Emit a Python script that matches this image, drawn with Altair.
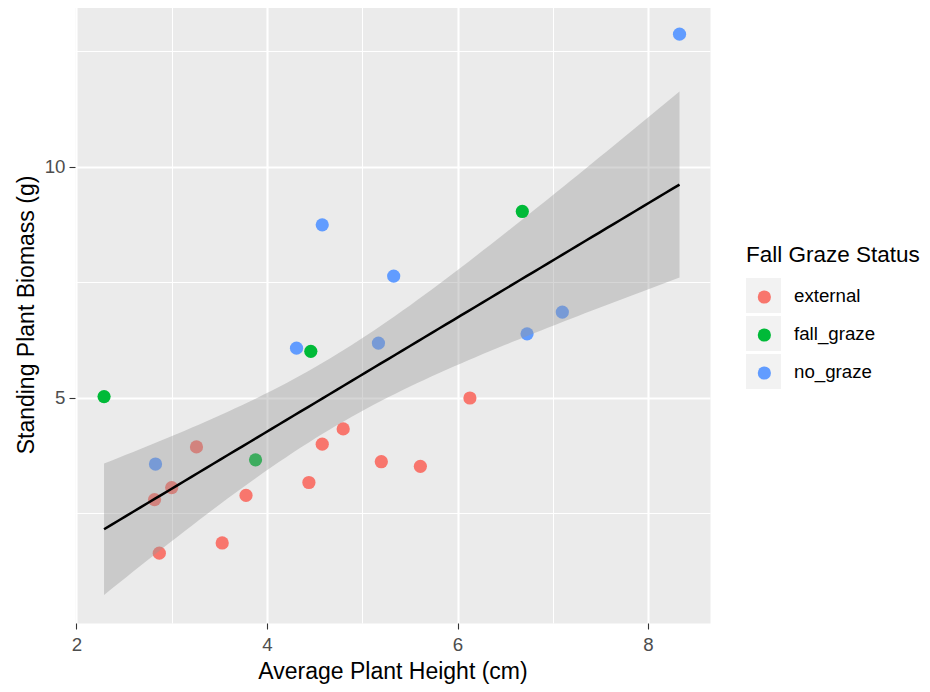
import altair as alt
import numpy as np
import pandas as pd

# ---- data ----
status_levels = ["external", "fall_graze", "no_graze"]
status_colors = ["#F8766D", "#00BA38", "#619CFF"]

external_height = [3.26, 3.00, 2.82, 2.87, 3.53, 3.78, 4.44, 4.58, 4.80, 5.20, 5.61, 6.13]
external_biomass = [3.93, 3.05, 2.79, 1.63, 1.85, 2.88, 3.16, 3.99, 4.32, 3.61, 3.51, 4.99]

fall_height = [2.29, 4.46, 3.88, 6.68]
fall_biomass = [5.02, 6.00, 3.65, 9.03]

nograze_height = [8.33, 4.58, 5.33, 4.31, 5.17, 6.73, 7.10, 2.83]
nograze_biomass = [12.87, 8.74, 7.63, 6.07, 6.18, 6.38, 6.85, 3.56]

x_ticks = [2, 3, 4, 5, 6, 7, 8]
y_ticks = [2.5, 5, 7.5, 10, 12.5]

rows = []
for s, xs, ys in [("external", external_height, external_biomass),
                  ("fall_graze", fall_height, fall_biomass),
                  ("no_graze", nograze_height, nograze_biomass)]:
    for xv, yv in zip(xs, ys):
        # status_key: same level with a trailing space, so its legend is kept separate
        rows.append({"height": xv, "biomass": yv, "status": s, "status_key": s + " "})
pts = pd.DataFrame(rows)
key_levels = [s + " " for s in status_levels]

# ---- linear model fit with 95% confidence band (geom_smooth(method="lm")) ----
xv = pts["height"].to_numpy()
yv = pts["biomass"].to_numpy()
n = len(xv)
slope, intercept = np.polyfit(xv, yv, 1)
resid = yv - (intercept + slope * xv)
s_err = np.sqrt(np.sum(resid ** 2) / (n - 2))
xbar = xv.mean()
sxx = np.sum((xv - xbar) ** 2)
t_crit = 2.0739  # t quantile 0.975, df = 22
grid = np.linspace(xv.min(), xv.max(), 80)
fit = intercept + slope * grid
se = s_err * np.sqrt(1.0 / n + (grid - xbar) ** 2 / sxx)
band = pd.DataFrame({"height": grid, "fit": fit, "lo": fit - t_crit * se, "hi": fit + t_crit * se})

FONT = "Liberation Sans"

xscale = alt.Scale(domain=[1.985, 8.65], nice=False, zero=False)
yscale = alt.Scale(domain=[0.117, 13.48], nice=False, zero=False)

x_axis = alt.Axis(
    values=x_ticks,
    labelExpr="datum.value % 2 === 0 ? format(datum.value, 'd') : ''",
    gridWidth={"condition": {"test": "datum.value % 2 === 0", "value": 2.1}, "value": 1.05},
    tickOpacity={"condition": {"test": "datum.value % 2 === 0", "value": 1}, "value": 0},
    labelPadding=6,
    titlePadding=7,
    title="Average Plant Height (cm)",
)
y_axis = alt.Axis(
    values=y_ticks,
    labelExpr="datum.value % 5 === 0 ? format(datum.value, 'd') : ''",
    gridWidth={"condition": {"test": "datum.value % 5 === 0", "value": 2.1}, "value": 1.05},
    tickOpacity={"condition": {"test": "datum.value % 5 === 0", "value": 1}, "value": 0},
    labelPadding=4,
    titlePadding=6,
    title="Standing Plant Biomass (g)",
)


def xenc():
    return alt.X("height:Q", scale=xscale, axis=x_axis)


def yenc(field):
    return alt.Y(f"{field}:Q", scale=yscale, axis=y_axis)


LX, LY = 671, 238
TITLE_FS, TITLE_PAD = 22.5, 10

legend_boxes = alt.Legend(
    title="Fall Graze Status", orient="none", legendX=LX, legendY=LY,
    symbolType="square", symbolSize=1225, symbolFillColor="#F2F2F2",
    symbolStrokeWidth=0, symbolOpacity=1, clipHeight=38, rowPadding=0,
    labelFont=FONT, labelFontSize=18.7, labelColor="black", labelOffset=13,
    titleFont=FONT, titleFontSize=TITLE_FS, titleFontWeight="normal", titleColor="black",
    titlePadding=TITLE_PAD, padding=0, offset=0, zindex=0,
)
legend_dots = alt.Legend(
    title=None, orient="none", legendX=LX + 9, legendY=LY + 1.5 + TITLE_FS + TITLE_PAD,
    symbolType="circle", symbolSize=175, symbolStrokeWidth=0, symbolOpacity=1,
    clipHeight=38, rowPadding=0,
    labelExpr="''", labelFontSize=18.7, labelOffset=12,
    padding=0, offset=0, zindex=1,
)

points = alt.Chart(pts).mark_circle(size=175).encode(
    x=xenc(),
    y=yenc("biomass"),
    color=alt.Color("status:N", scale=alt.Scale(domain=status_levels, range=status_colors),
                    legend=legend_dots),
    opacity=alt.Opacity("status_key:N", scale=alt.Scale(domain=key_levels, range=[1, 1]),
                        legend=legend_boxes),
)

ribbon = alt.Chart(band).mark_area(color="#999999", opacity=0.4).encode(
    x=xenc(),
    y=yenc("lo"),
    y2="hi:Q",
)

line = alt.Chart(band).mark_line(color="black", strokeWidth=2.5).encode(
    x=xenc(),
    y=yenc("fit"),
)

chart = alt.layer(points, ribbon, line).resolve_legend(color="independent", opacity="independent").properties(
    width=635,
    height=617,
    padding={"left": 7, "top": -2, "right": 0, "bottom": 0},
    background="white",
).configure_view(
    fill="#EBEBEB", stroke="transparent"
).configure_axis(
    domain=False,
    gridColor="white",
    tickColor="#333333",
    tickSize=6,
    tickWidth=1.1,
    labelFont=FONT,
    labelFontSize=18.7,
    labelColor="#4D4D4D",
    titleFont=FONT,
    titleFontSize=23,
    titleFontWeight="normal",
    titleColor="black",
)

chart.save("out.html", embed_options={"renderer": "svg", "actions": False})
